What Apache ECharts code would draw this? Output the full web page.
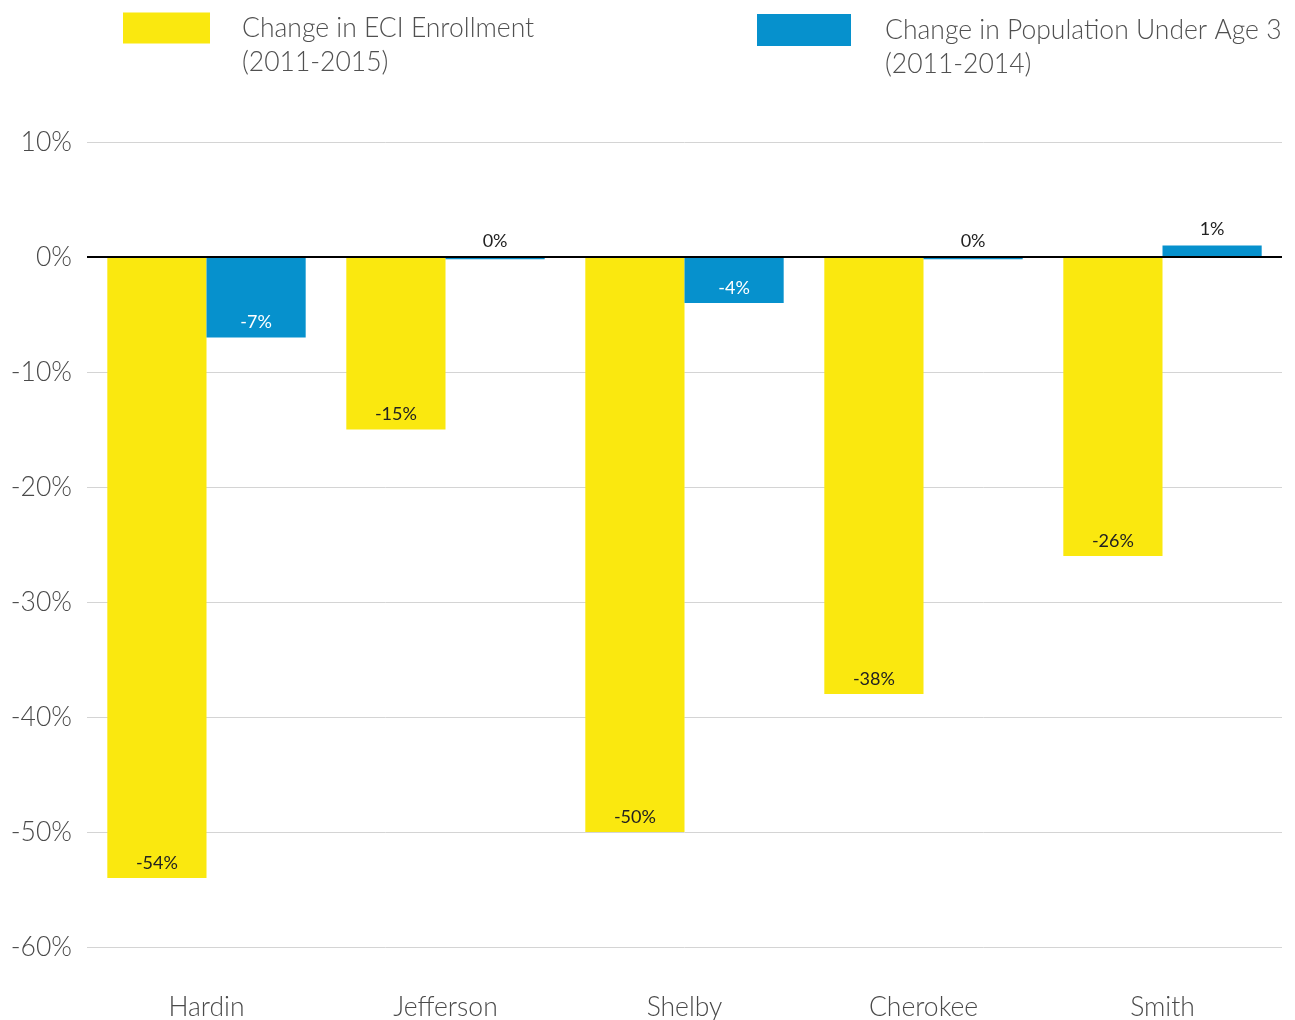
<!DOCTYPE html>
<html>
<head>
<meta charset="utf-8">
<script src="https://cdn.jsdelivr.net/npm/echarts@6/dist/echarts.min.js"></script>
<style>
html,body{margin:0;padding:0;background:#fff;}
#chart{width:1295px;height:1020px;}
</style>
</head>
<body>
<div id="chart"></div>
<script>
const categories = ['Hardin', 'Jefferson', 'Shelby', 'Cherokee', 'Smith'];
const eciEnrollment = [-54, -15, -50, -38, -26];
const popUnder3 = [-7, -0.2, -4, -0.2, 1];
const seriesNames = ['Change in ECI Enrollment\n(2011-2015)', 'Change in Population Under Age 3\n(2011-2014)'];
const yTicks = { min: -60, max: 10, interval: 10 };

const YELLOW = '#FAE80F';
const BLUE = '#0691CD';
const FONT = 'Lato';

function fmt(v) { return `${Math.round(v)}%`; }

function makeData(values, negColor) {
  return values.map(v => {
    const neg = v < -0.5;
    return {
      value: v,
      label: {
        position: neg ? 'insideBottom' : 'top',
        distance: neg ? 6 : 7,
        color: neg ? negColor : '#222'
      }
    };
  });
}

const chart = echarts.init(document.getElementById('chart'), null, { renderer: 'canvas' });

const legendText = {
  fontFamily: FONT, fontWeight: 300, fontSize: 26.5, color: '#505050', lineHeight: 34,
  padding: [0, 0, 0, 27]
};

chart.setOption({
  animation: false,
  backgroundColor: '#fff',
  legend: [
    {
      data: [seriesNames[0]], left: 123, top: -23, padding: 0,
      icon: 'rect', itemWidth: 87, itemHeight: 31,
      formatter: n => '\n' + n,
      textStyle: legendText, selectedMode: false
    },
    {
      data: [seriesNames[1]], left: 757, top: -21, padding: 0,
      icon: 'rect', itemWidth: 94, itemHeight: 32,
      formatter: n => '\n' + n,
      textStyle: Object.assign({}, legendText, { padding: [0, 0, 0, 29] }), selectedMode: false
    }
  ],
  grid: { left: 87, right: 13, top: 142, bottom: 73, containLabel: false, outerBoundsMode: 'none' },
  xAxis: {
    type: 'category',
    data: categories,
    axisLine: { show: false, onZero: false },
    axisTick: { show: false },
    axisLabel: { fontFamily: FONT, fontWeight: 300, fontSize: 26.5, color: '#4a4a4a', margin: 47 }
  },
  yAxis: {
    type: 'value',
    min: yTicks.min, max: yTicks.max, interval: yTicks.interval,
    axisLine: { show: false },
    axisTick: { show: false },
    axisLabel: { formatter: v => `${v}%`, fontFamily: FONT, fontWeight: 300, fontSize: 26.5, color: '#4a4a4a', margin: 15 },
    splitLine: { lineStyle: { color: '#d4d4d4', width: 1 } }
  },
  series: [
    {
      name: seriesNames[0], type: 'bar',
      data: makeData(eciEnrollment, '#222'),
      itemStyle: { color: YELLOW },
      barGap: '0%', barCategoryGap: '17%',
      label: { show: true, fontFamily: FONT, fontSize: 18, formatter: p => fmt(p.value) },
      markLine: {
        silent: true, symbol: 'none', label: { show: false },
        lineStyle: { color: '#000', width: 2, type: 'solid' },
        data: [{ yAxis: 0 }]
      }
    },
    {
      name: seriesNames[1], type: 'bar',
      data: makeData(popUnder3, '#fff'),
      itemStyle: { color: BLUE },
      barGap: '0%', barCategoryGap: '17%',
      label: { show: true, fontFamily: FONT, fontSize: 18, formatter: p => fmt(p.value) }
    }
  ]
});
</script>
</body>
</html>
